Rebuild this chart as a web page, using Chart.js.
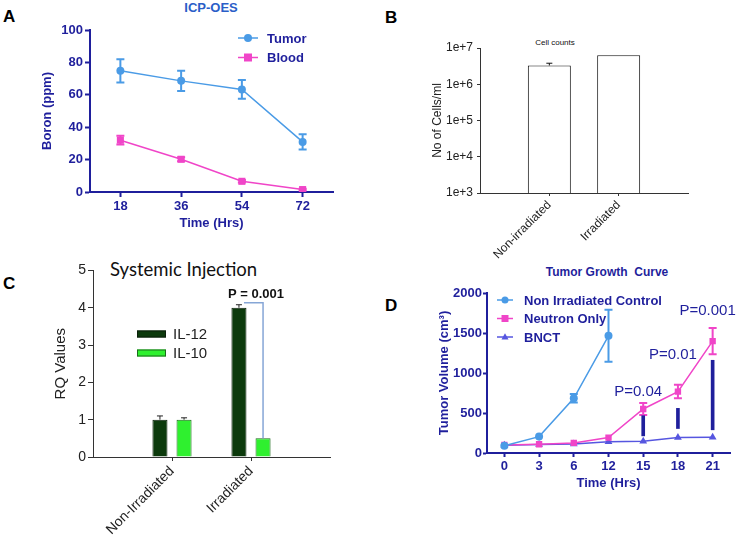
<!DOCTYPE html>
<html><head><meta charset="utf-8">
<script src="https://cdn.jsdelivr.net/npm/chart.js@4/dist/chart.umd.min.js"></script>
<style>
body{margin:0;background:#fff;width:740px;height:543px;overflow:hidden;position:relative;font-family:Arial,"Liberation Sans",sans-serif}
canvas{position:absolute}
.t{position:absolute;white-space:nowrap;line-height:1}
</style></head><body>
<div class="t" style="left:3px;top:7px;font:bold 17px Arial,'Liberation Sans',sans-serif">A</div>
<div class="t" style="left:385px;top:8px;font:bold 17px Arial,'Liberation Sans',sans-serif">B</div>
<div class="t" style="left:3px;top:274px;font:bold 17px Arial,'Liberation Sans',sans-serif">C</div>
<div class="t" style="left:385px;top:296px;font:bold 17px Arial,'Liberation Sans',sans-serif">D</div>
<div class="t" style="left:211px;top:0px;transform:translateX(-50%);font:bold 13px Arial,'Liberation Sans',sans-serif;color:#2a5ec8">ICP-OES</div>
<div class="t" style="left:555px;top:38px;transform:translateX(-50%);font:8px Arial,'Liberation Sans',sans-serif;color:#111">Cell counts</div>
<div class="t" style="left:110px;top:258px;font:18.5px Lato,'Open Sans',sans-serif;color:#111">Systemic Injection</div>
<div class="t" style="left:607px;top:265px;transform:translateX(-50%);font:bold 12px Arial,'Liberation Sans',sans-serif;color:#1f1f9c">Tumor Growth&nbsp; Curve</div>

<canvas id="cA" width="370" height="240" style="left:0;top:0;width:370px;height:240px"></canvas>
<canvas id="cB" width="370" height="265" style="left:370px;top:0;width:370px;height:265px"></canvas>
<canvas id="cC" width="370" height="283" style="left:0;top:260px;width:370px;height:283px"></canvas>
<canvas id="cD" width="370" height="215" style="left:370px;top:280px;width:370px;height:215px"></canvas>
<script>
// ---------- Panel A data ----------
const timeA = ['18', '36', '54', '72'];
const tumor = [74.8, 68.6, 63.3, 30.9];
const tumorErr = [7.2, 6.3, 5.8, 4.7];
const blood = [32, 20.2, 6.6, 1.5];
const bloodErr = [2.7, 1.2, 0.8, 0.5];

// ---------- Panel B data ----------
const cellGroups = ['', 'Non-irradiated', 'Irradiated', ''];
const cellCounts = [null, 3.3e6, 6.3e6, null];
const cellErr = [null, 0.5e6, 0, null];
const logTicks = [1e3, 1e4, 1e5, 1e6, 1e7];

// ---------- Panel C data ----------
const rqGroups = ['', 'Non-Irradiated', 'Irradiated', ''];
const il12 = [null, 1.0, 4.0, null];
const il12Err = [null, 0.1, 0.08, null];
const il10 = [null, 1.0, 0.5, null];
const il10Err = [null, 0.05, 0, null];
const rqPText = 'P = 0.001';

// ---------- Panel D data ----------
const hoursD = ['0', '3', '6', '12', '15', '18', '21'];
const control = [90, 205, 684, 1465, null, null, null];
const controlErr = [0, 0, 53, 325, null, null, null];
const neutron = [100, 109, 126, 193, 550, 768, 1398];
const neutronErr = [0, 0, 0, 0, 75, 84, 164];
const bnct = [97, 105, 113, 142, 147, 193, 198];
const pRanges = [null, null, null, null, [214, 466], [306, 558], [290, 1159]];
const pLabels = ['P=0.04', 'P=0.01', 'P=0.001'];
const pLabelAt = [4, 5, 6];
const pLabelY = [760, 1225, 1775];

// ---------- styling ----------
const FONT = 'Arial, "Liberation Sans", sans-serif';
const NAVY = '#1f1f9c';
const TUMOR_C = '#4a9be6';
const MAG = '#f045c8';
const BNCT_C = '#5656e0';

Chart.defaults.font.family = FONT;

// error bars (drawn before datasets so markers sit on top)
const errorBars = {
  id: 'errorBars',
  beforeDatasetsDraw(chart) {
    const ctx = chart.ctx;
    chart.data.datasets.forEach((ds, i) => {
      if (!ds.err) return;
      const meta = chart.getDatasetMeta(i);
      const ys = chart.scales[meta.yAxisID];
      ctx.save();
      ctx.strokeStyle = ds.errColor || ds.borderColor;
      ctx.lineWidth = ds.errWidth || 1.5;
      meta.data.forEach((el, j) => {
        const v = ds.data[j], e = ds.err[j];
        if (v == null || !e) return;
        const x = el.x;
        const yTop = ys.getPixelForValue(v + e);
        const yBot = ds.errUpOnly ? el.y : ys.getPixelForValue(v - e);
        const cw = ds.capW || 4;
        ctx.beginPath();
        ctx.moveTo(x, yBot); ctx.lineTo(x, yTop);
        ctx.moveTo(x - cw, yTop); ctx.lineTo(x + cw, yTop);
        if (!ds.errUpOnly) { ctx.moveTo(x - cw, yBot); ctx.lineTo(x + cw, yBot); }
        ctx.stroke();
      });
      ctx.restore();
    });
  }
};

function drawMarker(ctx, style, x, y, r, color) {
  ctx.fillStyle = color;
  ctx.beginPath();
  if (style === 'circle') { ctx.arc(x, y, r, 0, Math.PI * 2); }
  else if (style === 'rect') { ctx.rect(x - r, y - r, 2 * r, 2 * r); }
  else if (style === 'triangle') {
    ctx.moveTo(x, y - r * 1.1); ctx.lineTo(x + r, y + r * 0.7); ctx.lineTo(x - r, y + r * 0.7); ctx.closePath();
  }
  ctx.fill();
}

// custom legend
const legendX = {
  id: 'legendX',
  afterDraw(chart, args, o) {
    if (!o.kind) return;
    const ctx = chart.ctx;
    chart.data.datasets.forEach((ds, k) => {
      if (ds.noLegend) return;
      const y = o.y + k * o.dy;
      ctx.save();
      if (o.kind === 'line') {
        ctx.strokeStyle = ds.borderColor; ctx.lineWidth = 1.5;
        ctx.beginPath(); ctx.moveTo(o.x, y); ctx.lineTo(o.x + o.len, y); ctx.stroke();
        drawMarker(ctx, ds.pointStyle, o.x + o.len / 2, y, o.r, ds.borderColor);
      } else {
        ctx.fillStyle = ds.backgroundColor; ctx.strokeStyle = ds.borderColor; ctx.lineWidth = 1;
        ctx.fillRect(o.x, y - o.boxH / 2, o.len, o.boxH);
        ctx.strokeRect(o.x + 0.5, y - o.boxH / 2 + 0.5, o.len - 1, o.boxH - 1);
      }
      ctx.fillStyle = o.color; ctx.font = o.font; ctx.textBaseline = 'middle';
      ctx.fillText(ds.label, o.x + o.len + o.gap, y + 1);
      ctx.restore();
    });
  }
};

// ---------- Panel A ----------
const axA = { color: NAVY, font: { family: FONT, size: 13, weight: 'bold' } };
new Chart(document.getElementById('cA'), {
  type: 'line',
  data: {
    labels: timeA,
    datasets: [
      { label: 'Tumor', data: tumor, err: tumorErr, borderColor: TUMOR_C, backgroundColor: TUMOR_C, borderWidth: 1.5,
        pointStyle: 'circle', pointRadius: 4, pointBorderWidth: 0, capW: 4, errWidth: 2 },
      { label: 'Blood', data: blood, err: bloodErr, borderColor: MAG, backgroundColor: MAG, borderWidth: 1.5,
        pointStyle: 'rect', pointRadius: 5, pointBorderWidth: 0, capW: 4, errWidth: 2 }
    ]
  },
  options: {
    responsive: false, animation: false,
    layout: { padding: { left: 0, right: 37, top: 30, bottom: 0 } },
    plugins: { legend: { display: false }, tooltip: { enabled: false },
      legendX: { kind: 'line', x: 238, y: 38, dy: 19.5, len: 20, gap: 9, r: 4, color: NAVY, font: 'bold 13px ' + FONT } },
    scales: {
      x: { offset: true, afterFit: s => { s.height = 48; },
        border: { color: NAVY, width: 2 },
        grid: { drawOnChartArea: false, tickLength: 5, tickColor: NAVY, tickWidth: 2 },
        ticks: { color: NAVY, font: axA.font, padding: 2, maxRotation: 0 },
        title: { display: true, text: 'Time (Hrs)', color: NAVY, font: axA.font, padding: { top: 0, bottom: 9 } } },
      y: { min: 0, max: 100, afterFit: s => { s.width = 90; },
        border: { color: NAVY, width: 2 },
        grid: { drawOnChartArea: false, tickLength: 5, tickColor: NAVY, tickWidth: 2 },
        ticks: { stepSize: 20, color: NAVY, font: axA.font, padding: 2 },
        title: { display: true, text: 'Boron (ppm)', color: NAVY, font: axA.font, padding: { top: 40, bottom: 0 } } }
    }
  },
  plugins: [errorBars, legendX]
});

// ---------- Panel B ----------
const GB = '#222';
new Chart(document.getElementById('cB'), {
  type: 'bar',
  data: {
    labels: cellGroups,
    datasets: [
      { label: 'Cell counts', data: cellCounts, err: cellErr, errUpOnly: true, errColor: '#111', errWidth: 1, capW: 3,
        backgroundColor: '#ffffff', borderColor: '#111', borderWidth: 1, barPercentage: 0.62, categoryPercentage: 1 }
    ]
  },
  options: {
    responsive: false, animation: false,
    layout: { padding: { left: 0, right: 52, top: 48, bottom: 0 } },
    plugins: { legend: { display: false }, tooltip: { enabled: false } },
    scales: {
      x: { offset: false, afterFit: s => { s.height = 72; },
        border: { color: '#333', width: 1 },
        grid: { offset: false, drawOnChartArea: false, tickLength: 3,
          tickColor: c => (c.tick && c.tick.label) ? '#333' : 'rgba(0,0,0,0)' },
        ticks: { color: GB, font: { family: FONT, size: 12 }, padding: 2, minRotation: 45, maxRotation: 45, autoSkip: false } },
      y: { type: 'logarithmic', min: 1e3, max: 1e7, afterFit: s => { s.width = 110; },
        afterBuildTicks: s => { s.ticks = logTicks.map(v => ({ value: v })); },
        border: { color: '#333', width: 1 },
        grid: { drawOnChartArea: false, tickLength: 3, tickColor: '#333' },
        ticks: { color: GB, font: { family: FONT, size: 12 }, padding: 4,
          callback: v => '1e+' + Math.round(Math.log10(v)) },
        title: { display: true, text: 'No of Cells/ml', color: GB, font: { family: FONT, size: 12 }, padding: { top: 60, bottom: 0 } } }
    }
  },
  plugins: [errorBars]
});

// ---------- Panel C ----------
const pBracket = {
  id: 'pBracket',
  afterDatasetsDraw(chart) {
    const ctx = chart.ctx;
    const a = chart.getDatasetMeta(0).data[2], b = chart.getDatasetMeta(1).data[2];
    const ys = chart.scales.y;
    const yTop = ys.getPixelForValue(il12[2] + il12Err[2] + 0.05);
    ctx.save();
    ctx.strokeStyle = '#86a6d6'; ctx.lineWidth = 1.5;
    ctx.beginPath();
    ctx.moveTo(a.x + 5, yTop); ctx.lineTo(b.x, yTop); ctx.lineTo(b.x, b.y);
    ctx.stroke();
    ctx.fillStyle = '#111'; ctx.font = 'bold 13px ' + FONT; ctx.textAlign = 'center'; ctx.textBaseline = 'middle';
    ctx.fillText(rqPText, (a.x + b.x) / 2 + 5, ys.getPixelForValue(il12[2] + 0.35));
    ctx.restore();
  }
};
const GC = '#222';
new Chart(document.getElementById('cC'), {
  type: 'bar',
  data: {
    labels: rqGroups,
    datasets: [
      { label: 'IL-12', data: il12, err: il12Err, errUpOnly: true, errColor: '#222', errWidth: 1, capW: 3,
        backgroundColor: '#0c3a0c', borderColor: '#0a1f0a', borderWidth: 1, barPercentage: 0.625, categoryPercentage: 0.61 },
      { label: 'IL-10', data: il10, err: il10Err, errUpOnly: true, errColor: '#222', errWidth: 1, capW: 3,
        backgroundColor: '#2ff02f', borderColor: '#1c6a1c', borderWidth: 1, barPercentage: 0.625, categoryPercentage: 0.61 }
    ]
  },
  options: {
    responsive: false, animation: false,
    layout: { padding: { left: 0, right: 40, top: 7, bottom: 0 } },
    plugins: { legend: { display: false }, tooltip: { enabled: false },
      legendX: { kind: 'box', x: 137, y: 74, dy: 19, len: 29, boxH: 7, gap: 7, color: GC, font: '15px ' + FONT } },
    scales: {
      x: { offset: false, afterFit: s => { s.height = 86; },
        border: { color: '#333', width: 1 },
        grid: { offset: false, drawOnChartArea: false, tickLength: 4,
          tickColor: c => (c.tick && c.tick.label) ? '#333' : 'rgba(0,0,0,0)' },
        ticks: { color: GC, font: { family: FONT, size: 14 }, padding: 2, minRotation: 45, maxRotation: 45, autoSkip: false } },
      y: { min: 0, max: 5, afterFit: s => { s.width = 93; },
        border: { color: '#333', width: 1 },
        grid: { drawOnChartArea: false, tickLength: 5, tickColor: '#333' },
        ticks: { stepSize: 1, color: GC, font: { family: FONT, size: 14 }, padding: 2 },
        title: { display: true, text: 'RQ Values', color: GC, font: { family: FONT, size: 15 }, padding: { top: 52, bottom: 0 } } }
    }
  },
  plugins: [errorBars, legendX, pBracket]
});

// ---------- Panel D ----------
const pText = {
  id: 'pText',
  afterDraw(chart) {
    const ctx = chart.ctx, xs = chart.scales.x, ys = chart.scales.y;
    ctx.save();
    ctx.fillStyle = NAVY; ctx.font = '15px ' + FONT; ctx.textAlign = 'center'; ctx.textBaseline = 'middle';
    pLabels.forEach((t, i) => {
      ctx.fillText(t, xs.getPixelForValue(pLabelAt[i]) - 5, ys.getPixelForValue(pLabelY[i]));
    });
    ctx.restore();
  }
};
const axD = { family: FONT, size: 13, weight: 'bold' };
new Chart(document.getElementById('cD'), {
  type: 'line',
  data: {
    labels: hoursD,
    datasets: [
      { label: 'Non Irradiated Control', data: control, err: controlErr, borderColor: TUMOR_C, backgroundColor: TUMOR_C,
        borderWidth: 1.5, pointStyle: 'circle', pointRadius: 4, pointBorderWidth: 0, capW: 4, errWidth: 2, order: 1 },
      { label: 'Neutron Only', data: neutron, err: neutronErr, borderColor: MAG, backgroundColor: MAG,
        borderWidth: 1.5, pointStyle: 'rect', pointRadius: 4.5, pointBorderWidth: 0, capW: 4, errWidth: 2, order: 1 },
      { label: 'BNCT', data: bnct, borderColor: BNCT_C, backgroundColor: BNCT_C,
        borderWidth: 1.5, pointStyle: 'triangle', pointRadius: 4.5, pointBorderWidth: 0, order: 1 },
      { type: 'bar', label: 'p', noLegend: true, data: pRanges, backgroundColor: NAVY, borderWidth: 0,
        barThickness: 3, order: 2 }
    ]
  },
  options: {
    responsive: false, animation: false,
    layout: { padding: { left: 0, right: 10, top: 13, bottom: 0 } },
    plugins: { legend: { display: false }, tooltip: { enabled: false },
      legendX: { kind: 'line', x: 127, y: 20, dy: 18.5, len: 16, gap: 11, r: 3.5, color: NAVY, font: 'bold 13px ' + FONT } },
    scales: {
      x: { offset: true, afterFit: s => { s.height = 42; },
        border: { color: NAVY, width: 2 },
        grid: { offset: false, drawOnChartArea: false, tickLength: 4, tickColor: NAVY, tickWidth: 2 },
        ticks: { color: NAVY, font: axD, padding: 2, maxRotation: 0 },
        title: { display: true, text: 'Time (Hrs)', color: NAVY, font: axD, padding: { top: 0, bottom: 4 } } },
      y: { min: 0, max: 2000, afterFit: s => { s.width = 117; },
        border: { color: NAVY, width: 2 },
        grid: { drawOnChartArea: false, tickLength: 4, tickColor: NAVY, tickWidth: 2 },
        ticks: { stepSize: 500, color: NAVY, font: axD, padding: 1, callback: v => String(v) },
        title: { display: true, text: 'Tumor Volume (cm³)', color: NAVY, font: axD, padding: { top: 67, bottom: 0 } } }
    }
  },
  plugins: [errorBars, legendX, pText]
});
</script>
</body></html>
